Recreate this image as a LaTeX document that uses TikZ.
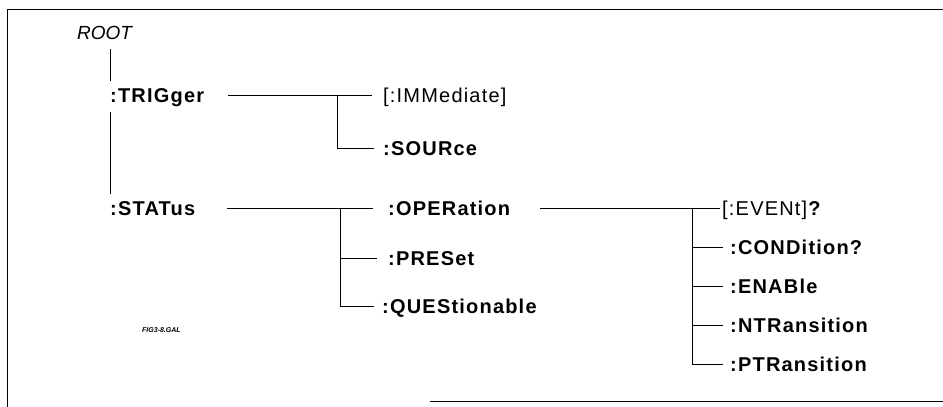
\documentclass[tikz,border=0pt]{standalone}
\usepackage{fontspec}
\setsansfont{Liberation Sans}
\newfontfamily\cmdfont[LetterSpace=6]{Liberation Sans}
\newcommand\cmdsize{\fontsize{20pt}{24pt}\selectfont}
\usetikzlibrary{positioning}

\begin{document}
\begin{tikzpicture}[x=1pt, y=-1pt,
  cmd/.style={font=\cmdfont\bfseries\cmdsize, anchor=west, inner sep=0pt, text height=14pt, text depth=0pt},
  opt/.style={cmd, font=\cmdfont\cmdsize},
  tree/.style={line width=0.9pt}]
\useasboundingbox (0,0) rectangle (943,407);
% frame (cut off at the right and at the bottom left)
\draw[line width=0.9pt] (7,407) -- (7,9) -- (943,9);
\draw[line width=0.9pt] (430,401) -- (943,401);

\node[opt, font=\sffamily\itshape\fontsize{19pt}{22pt}\selectfont] (root) at (77,32) {ROOT};
\node[cmd] (trig) at (110,95) {:TRIGger};
\node[cmd] (stat) at (110,208) {:STATus};

\node[opt] (imm) at (383,95) {[:IMMediate]};
\node[cmd] (src) at (383,148) {:SOURce};

\node[cmd] (oper) at (388,208) {:OPERation};
\node[cmd] (pres) at (388,258) {:PRESet};
\node[cmd] (ques) at (382,306) {:QUEStionable};

\node[opt] (event) at (722,208) {[:EVENt]\textbf{?}};
\node[cmd] (cond) at (730,247) {:CONDition?};
\node[cmd] (enab) at (730,286) {:ENABle};
\node[cmd] (ntr) at (730,325) {:NTRansition};
\node[cmd] (ptr) at (730,364) {:PTRansition};

\node[font=\sffamily\bfseries\itshape\fontsize{7pt}{8pt}\selectfont, anchor=west, inner sep=0pt] (fig) at (142,330) {FIG3-8.GAL};

\coordinate (jt) at (337,95);
\coordinate (js) at (340,208);
\coordinate (jo) at (692,208);

% root level
\draw[tree, shorten <=10pt, shorten >=7pt] (trig.west |- root.south) -- (trig.north west);
\draw[tree, shorten <=10pt, shorten >=7pt] (trig.south west) -- (stat.north west);

% trigger subtree
\draw[tree, shorten <=24pt, shorten >=11pt] (trig) -- (imm);
\draw[tree, shorten >=9pt] (jt) |- (src);

% status subtree
\draw[tree, shorten <=32pt, shorten >=15pt] (stat) -- (oper);
\draw[tree, shorten >=11pt] (js) |- (pres);
\draw[tree, shorten >=8pt] (js) |- (ques);

% operation subtree
\draw[tree, shorten <=30pt, shorten >=2pt] (oper) -- (event);
\draw[tree, shorten >=7pt] (jo) |- (cond);
\draw[tree, shorten >=7pt] (jo) |- (enab);
\draw[tree, shorten >=7pt] (jo) |- (ntr);
\draw[tree, shorten >=7pt] (jo) |- (ptr);
\end{tikzpicture}
\end{document}
